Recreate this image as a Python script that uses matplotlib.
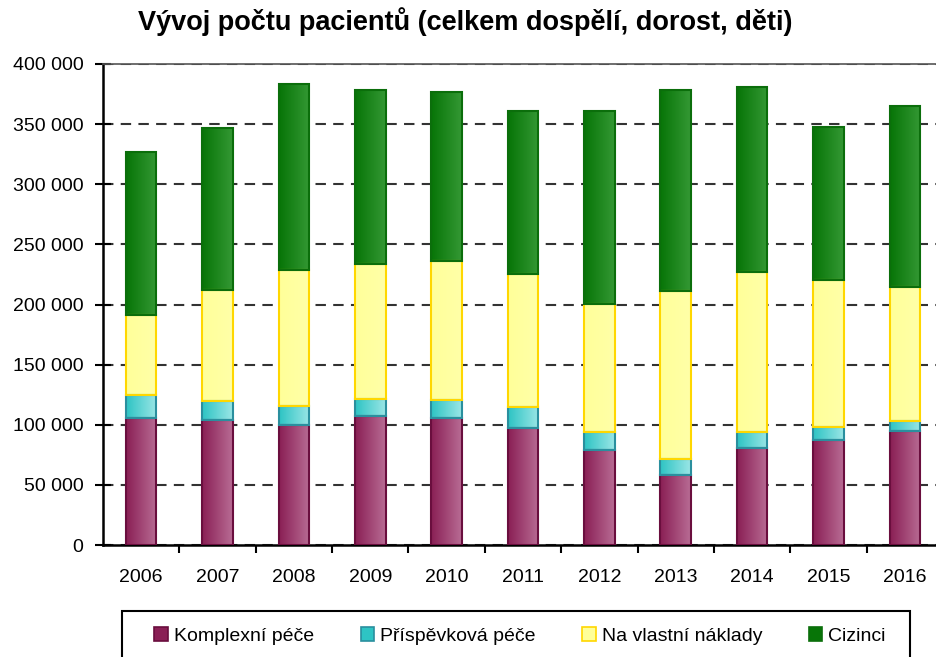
import matplotlib
matplotlib.use("Agg")
from matplotlib import pyplot as plt
from matplotlib.colors import LinearSegmentedColormap
from matplotlib.patches import Patch, Rectangle
from matplotlib.ticker import FuncFormatter
import numpy as np

plt.rcParams['font.family'] = ['Liberation Sans', 'DejaVu Sans']

# data (thousands of patients)
years = ['2006', '2007', '2008', '2009', '2010', '2011', '2012', '2013', '2014', '2015', '2016']
komplexni = [105.6, 103.6, 100.0, 106.9, 105.8, 97.2, 79.2, 58.3, 80.8, 87.5, 94.4]
prispevkova = [19.1, 16.1, 15.3, 14.8, 15.0, 17.2, 14.7, 13.1, 13.1, 10.8, 8.9]
vlastni = [66.7, 92.2, 113.3, 111.6, 115.6, 111.2, 106.7, 139.6, 133.0, 122.0, 111.1]
cizinci = [135.8, 135.0, 155.0, 145.3, 140.0, 135.2, 160.4, 167.0, 153.9, 127.5, 150.6]

series = [
    ('Komplexní péče', komplexni, '#8a1f55', '#b86c94', '#6a0e3e'),
    ('Příspěvková péče', prispevkova, '#2ec4c4', '#9ae6e6', '#2a8f9e'),
    ('Na vlastní náklady', vlastni, '#ffff99', '#ffffa8', '#ffd700'),
    ('Cizinci', cizinci, '#077507', '#349834', '#0b6e0b'),
]

fig = plt.figure(figsize=(9.36, 6.57), dpi=100)
ax = fig.add_axes([103 / 936, 112 / 657, 840 / 936, 481 / 657])

x = np.arange(len(years))
width = 0.4
bottom = np.zeros(len(years))
grad = np.linspace(0, 1, 64).reshape(1, -1)
handles = []
for name, vals, c1, c2, edge in series:
    vals = np.array(vals) * 1000
    bars = ax.bar(x, vals, width, bottom=bottom, color=c1, edgecolor='none', zorder=2)
    cmap = LinearSegmentedColormap.from_list(name, [c1, c2])
    for b in bars:
        x0, y0 = b.get_x(), b.get_y()
        img = ax.imshow(grad, cmap=cmap, aspect='auto', zorder=2.5,
                        extent=[x0, x0 + b.get_width(), y0, y0 + b.get_height()])
        img.set_clip_path(b)
    ax.bar(x, vals, width, bottom=bottom, fill=False, edgecolor=edge, linewidth=1.5, zorder=3)
    bottom += vals
    handles.append(Patch(facecolor=c1, edgecolor=edge, linewidth=1.2, label=name))

ax.set_xlim(-0.5, len(years) - 0.5)
ax.set_ylim(0, 400000)
ax.set_yticks(np.arange(0, 400001, 50000))
ax.yaxis.set_major_formatter(FuncFormatter(lambda v, p: f"{int(v):,}".replace(',', ' ')))
ax.set_xticks(x)
ax.set_xticklabels(years)
ax.set_xticks(np.arange(0.5, len(years) - 0.5), minor=True)
ax.tick_params(axis='x', which='major', length=0, pad=17, labelsize=14)
ax.tick_params(axis='x', which='minor', length=6, width=1.5, direction='out')
ax.tick_params(axis='y', length=12, width=1.5, direction='inout', pad=8, labelsize=14)

ax.yaxis.grid(True, color='#333333', linestyle=(0, (5, 3.5)), linewidth=1.5, zorder=0)
ax.set_axisbelow(True)
for s in ['left', 'bottom']:
    ax.spines[s].set_linewidth(1.8)
    ax.spines[s].set_color('black')
ax.spines['right'].set_visible(False)
ax.spines['top'].set_color('#555555')
ax.spines['top'].set_linewidth(1.2)

fig.text(465 / 936, 1 - 22 / 657, 'Vývoj počtu pacientů (celkem dospělí, dorost, děti)',
         ha='center', va='center', fontsize=19.5, fontweight='bold')

# legend frame drawn by hand, wider than its content
fig.patches.append(Rectangle((122 / 936, -0.02), 788 / 936, (657 - 611) / 657 + 0.02,
                             transform=fig.transFigure, fill=False,
                             edgecolor='black', linewidth=1.5))
fig.legend(handles=handles, loc='center', bbox_to_anchor=(520 / 936, 1 - 636 / 657),
           ncol=4, frameon=False, fontsize=14, handlelength=0.7, handleheight=0.7,
           handletextpad=0.3, columnspacing=2.4)

fig.savefig('out.png', dpi=100)
